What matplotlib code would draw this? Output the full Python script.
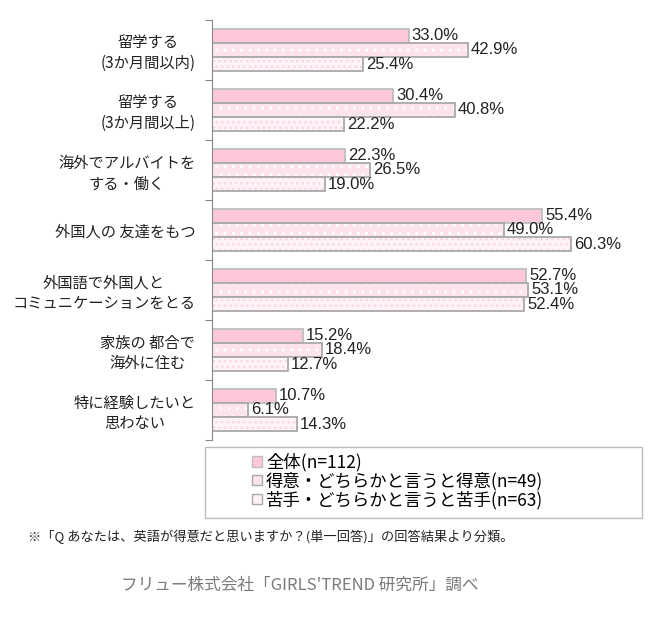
import matplotlib
matplotlib.use("Agg")
import matplotlib.pyplot as plt
from matplotlib.patches import Patch, Rectangle
import numpy as np

plt.rcParams['font.family'] = ['Noto Sans CJK JP', 'DejaVu Sans']
plt.rcParams['hatch.linewidth'] = 1.0

categories = ["留学する\n(3か月間以内)", "留学する\n(3か月間以上)", "海外でアルバイトを\nする・働く",
              "外国人の 友達をもつ", "外国語で外国人と\nコミュニケーションをとる",
              "家族の 都合で\n海外に住む", "特に経験したいと\n思わない"]
series_names = ["全体(n=112)", "得意・どちらかと言うと得意(n=49)", "苦手・どちらかと言うと苦手(n=63)"]
all_vals = [33.0, 30.4, 22.3, 55.4, 52.7, 15.2, 10.7]
good_vals = [42.9, 40.8, 26.5, 49.0, 53.1, 18.4, 6.1]
bad_vals = [25.4, 22.2, 19.0, 60.3, 52.4, 12.7, 14.3]
footnote = "※「Q あなたは、英語が得意だと思いますか？(単一回答)」の回答結果より分類。"
credit = "フリュー株式会社「GIRLS'TREND 研究所」調べ"

fig = plt.figure(figsize=(6.5, 6.3), dpi=100)
ax = fig.add_axes([212/650, 1-440/630, (629-212)/650, 420/630])

series = [all_vals, good_vals, bad_vals]
faces = ["#FFC8D8", "#FDE3EC", "#FFF3F6"]
hatches = [None, "..", "..."]
hcols = ["none", "#FFFFFF", "#F8D6E1"]
edges = ["#BDBDBD", "#A9A9A9", "#A9A9A9"]
h = 0.235
offsets = [-h, 0, h]
y = np.arange(len(categories))
for vals, fc, ht, hc, ec, off in zip(series, faces, hatches, hcols, edges, offsets):
    if ht:
        ax.barh(y + off, vals, height=h, color=fc, edgecolor=hc, hatch=ht, linewidth=0)
        ax.barh(y + off, vals, height=h, fill=False, edgecolor=ec, linewidth=1.3)
    else:
        ax.barh(y + off, vals, height=h, color=fc, edgecolor=ec, linewidth=1.3)
    for yi, v in zip(y, vals):
        ax.text(v + 0.5, yi + off, f"{v:.1f}%", va="center", ha="left",
                fontsize=12, family=['Liberation Sans', 'DejaVu Sans'], color="#222222")

ax.set_xlim(0, 70)
ax.set_ylim(len(categories) - 0.5, -0.5)
ax.set_xticks([])
ax.set_yticks(np.arange(-0.5, len(categories), 1.0))
ax.set_yticklabels([])
ax.tick_params(axis='y', which='major', length=5, color="#888888", direction='out')
ax.set_yticks(y, minor=True)
ax.set_yticklabels(categories, minor=True, fontsize=11, ha='right', color="#222222",
                   multialignment='center', linespacing=1.25)
ax.tick_params(axis='y', which='minor', length=0, pad=12)
for s in ["top", "right", "bottom"]:
    ax.spines[s].set_visible(False)
ax.spines["left"].set_color("#888888")

# legend frame
fig.add_artist(Rectangle((205/650, 1-518/630), (642-205)/650, (518-447)/630,
                         transform=fig.transFigure, fill=False, edgecolor="#BBBBBB", linewidth=1.0))
handles = [Patch(facecolor=faces[0], edgecolor=edges[0]),
           Patch(facecolor=faces[1], edgecolor=edges[1]),
           Patch(facecolor=faces[2], edgecolor=edges[2])]
leg = fig.legend(handles, series_names, loc="upper left",
                 bbox_to_anchor=(252/650, 1-453/630), fontsize=12.5,
                 frameon=False, handlelength=0.55, handleheight=0.55,
                 handletextpad=0.25, labelspacing=0.02, borderpad=0.0, borderaxespad=0)
fig.text(28/650, 1-537/630, footnote, fontsize=9.5, ha="left", va="center", color="#222222")
fig.text(300/650, 1-585/630, credit, fontsize=12, ha="center", va="center", color="#7a7a7a")

fig.savefig("out.png", dpi=100)
